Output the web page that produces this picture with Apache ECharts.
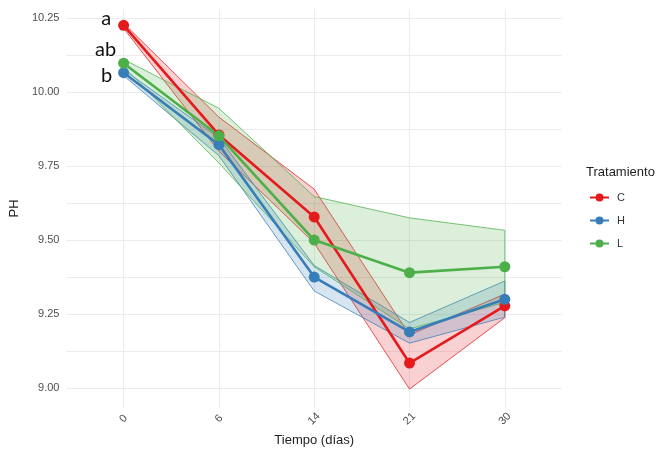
<!DOCTYPE html>
<html>
<head>
<meta charset="utf-8">
<script src="https://cdn.jsdelivr.net/npm/echarts@6/dist/echarts.min.js"></script>
<style>
  html, body { margin: 0; padding: 0; background: #fff; }
  #chart { width: 663px; height: 452px; }
</style>
</head>
<body>
<div id="chart"></div>
<script>
// días de muestreo
const days = ['0', '6', '14', '21', '30']
const groups = ['C', 'H', 'L']
const letters = ['a', 'b', 'ab']

// medias y banda (min / max) por tratamiento
const meanC = [10.225, 9.855, 9.578, 9.085, 9.278]
const lowC = [10.215, 9.80, 9.49, 8.997, 9.238]
const highC = [10.232, 9.915, 9.672, 9.18, 9.318]

const meanH = [10.065, 9.822, 9.375, 9.19, 9.30]
const lowH = [10.055, 9.785, 9.328, 9.152, 9.24]
const highH = [10.075, 9.845, 9.414, 9.222, 9.362]

const meanL = [10.097, 9.852, 9.50, 9.39, 9.41]
const lowL = [10.085, 9.76, 9.41, 9.20, 9.29]
const highL = [10.11, 9.945, 9.647, 9.575, 9.533]

const yLabels = [9.00, 9.25, 9.50, 9.75, 10.00, 10.25]
const yGrid = [9.00, 9.125, 9.25, 9.375, 9.50, 9.625, 9.75, 9.875, 10.00, 10.125, 10.25]

const colors = { C: '228,26,28', H: '55,126,184', L: '77,175,74' }
const data = {
  C: { mean: meanC, low: lowC, high: highC },
  H: { mean: meanH, low: lowH, high: highH },
  L: { mean: meanL, low: lowL, high: highL }
}

const chart = echarts.init(document.getElementById('chart'))

const ribbonSeries = []
const meanSeries = []
const labelTweaks = {
  C: { distance: 7, offset: [0, -7] },
  H: { distance: 6, offset: [0, 3] },
  L: { distance: 2, offset: [0, -14] }
}

groups.forEach((g, gi) => {
  const c = colors[g]
  const d = data[g]
  // banda min-max como polígono, coordenadas por la escala del eje
  ribbonSeries.push({
    name: g + '_band',
    type: 'custom',
    data: [[0, d.mean[0]]],
    z: 2,
    silent: true,
    renderItem: (params, api) => {
      const pts = []
      d.high.forEach((v, i) => pts.push(api.coord([i, v])))
      for (let i = d.low.length - 1; i >= 0; i--) pts.push(api.coord([i, d.low[i]]))
      return {
        type: 'polygon',
        shape: { points: pts },
        style: {
          fill: 'rgba(' + c + ',0.2)',
          stroke: 'rgba(' + c + ',0.75)',
          lineWidth: 1
        }
      }
    }
  })
  meanSeries.push({
    name: g,
    type: 'line',
    data: d.mean.map((v, i) => {
      if (i !== 0) return [i, v]
      return {
        value: [i, v],
        label: {
          show: true,
          formatter: letters[gi],
          position: 'left',
          distance: labelTweaks[g].distance,
          offset: labelTweaks[g].offset,
          fontFamily: 'Lato',
          fontSize: 20,
          color: '#111'
        }
      }
    }),
    symbol: 'circle',
    symbolSize: 11,
    itemStyle: { color: 'rgb(' + c + ')' },
    lineStyle: { color: 'rgb(' + c + ')', width: 2.6 },
    z: 3
  })
})

const option = {
  animation: false,
  backgroundColor: '#fff',
  textStyle: { fontFamily: 'Liberation Sans' },
  title: {
    text: 'Tratamiento',
    left: 581,
    top: 161,
    textStyle: { fontSize: 13, fontWeight: 'normal', color: '#222' }
  },
  legend: {
    data: groups,
    orient: 'vertical',
    left: 584,
    top: 187,
    itemWidth: 19,
    itemHeight: 10,
    itemGap: 12,
    textStyle: { fontSize: 11, color: '#333', padding: [0, 0, 0, 3] }
  },
  grid: { left: 63, right: 101, top: 9, bottom: 44 },
  xAxis: {
    type: 'value',
    min: -0.6,
    max: 4.6,
    name: 'Tiempo (días)',
    nameLocation: 'middle',
    nameGap: 25,
    nameTextStyle: { fontSize: 13, color: '#222' },
    axisLine: { show: false },
    axisTick: { show: false, customValues: [0, 1, 2, 3, 4] },
    axisLabel: {
      customValues: [0, 1, 2, 3, 4],
      formatter: v => days[v],
      rotate: 45,
      align: 'center',
      verticalAlign: 'middle',
      margin: 11,
      fontSize: 11,
      color: '#4d4d4d'
    },
    splitLine: { show: true, lineStyle: { color: '#ebebeb', width: 1 } }
  },
  yAxis: {
    type: 'value',
    min: 8.934,
    max: 10.28,
    name: 'PH',
    nameLocation: 'middle',
    nameRotate: 90,
    nameGap: 43,
    nameTextStyle: { fontSize: 13, color: '#222' },
    axisLine: { show: false },
    axisTick: { show: false, customValues: yGrid },
    axisLabel: {
      customValues: yLabels,
      formatter: v => v.toFixed(2),
      margin: 7,
      fontSize: 11,
      color: '#4d4d4d'
    },
    splitLine: { show: true, lineStyle: { color: '#ebebeb', width: 1 } }
  },
  series: ribbonSeries.concat(meanSeries)
}

chart.setOption(option)
</script>
</body>
</html>
